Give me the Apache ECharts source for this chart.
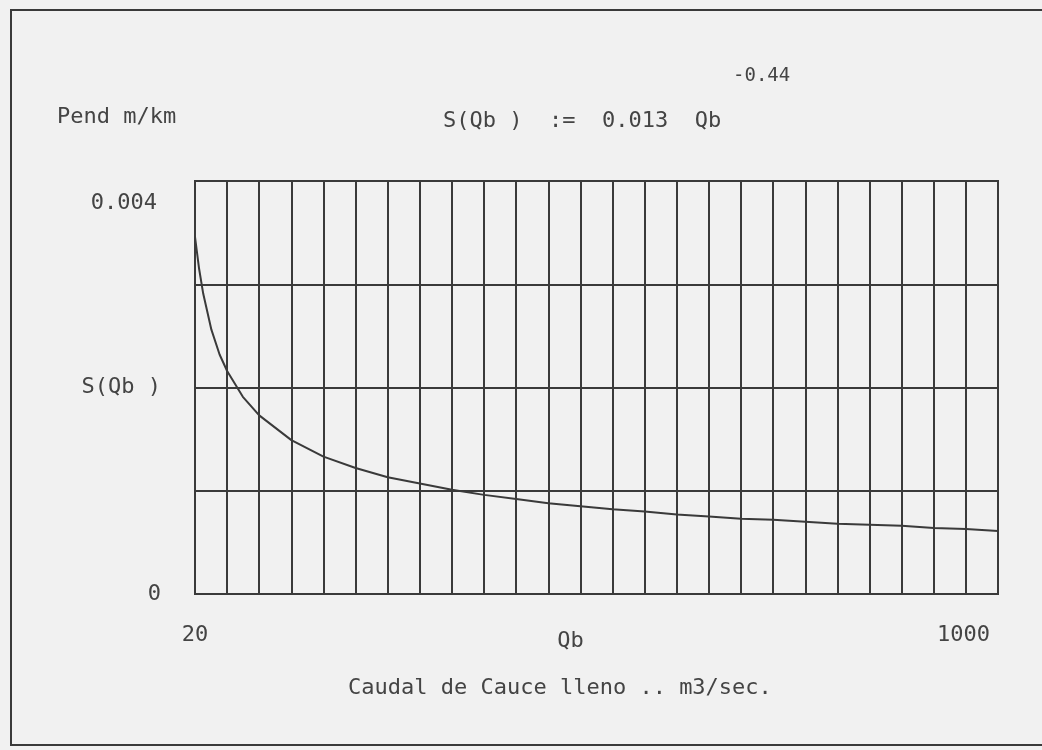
<!DOCTYPE html>
<html>
<head>
<meta charset="utf-8">
<script src="https://cdn.jsdelivr.net/npm/echarts@6/dist/echarts.min.js"></script>
<style>
  html, body { margin: 0; padding: 0; background: #f1f1f1; }
  #main { width: 1042px; height: 750px; position: relative; }
  #frame { position: absolute; left: 10px; top: 9px; width: 1040px; height: 737px;
           border: 2px solid #3a3a3a; box-sizing: border-box; pointer-events: none; }
</style>
</head>
<body>
<div id="frame"></div>
<div id="main"></div>
<script>
// Caudal de cauce lleno (m3/s) y pendiente
var qb = [20, 25, 30, 40, 50, 59.2, 78.4, 98.4, 137.6, 176.8, 216, 255.2, 294.4, 333.6, 372.8, 412,
  451.2, 490.4, 529.6, 568.8, 608, 647.2, 686.4, 725.6, 764.8, 804, 843.2, 882.4, 921.6, 960.8, 1000];
var slope = [0.00346, 0.00315, 0.00291, 0.00256, 0.00232, 0.00216, 0.00191, 0.00173, 0.00149, 0.00133,
  0.00122, 0.00113, 0.00107, 0.00101, 0.00096, 0.00092, 0.00088, 0.00085, 0.00082, 0.00080, 0.00077,
  0.00075, 0.00073, 0.00072, 0.00070, 0.00068, 0.00067, 0.00066, 0.00064, 0.00063, 0.00061];

var xTicks = { min: 20, max: 1000, step: 39.2 };
var yTicks = { min: 0, max: 0.004, step: 0.001 };

var font = '"DejaVu Sans Mono", monospace';
var ink = '#3a3a3a';
var textInk = '#444';

var myChart = echarts.init(document.getElementById('main'));
var points = qb.map(function (q, i) { return [q, slope[i]]; });

var option = {
  backgroundColor: 'transparent',
  animation: false,
  title: [
    { text: 'Pend m/km', left: 57, top: 106, padding: 0,
      textStyle: { fontFamily: font, fontSize: 22, fontWeight: 'normal', color: textInk } },
    { text: 'S(Qb )  :=  0.013  Qb', left: 443, top: 110, padding: 0,
      textStyle: { fontFamily: font, fontSize: 22, fontWeight: 'normal', color: textInk } },
    { text: '-0.44', left: 733, top: 67, padding: 0,
      textStyle: { fontFamily: font, fontSize: 19, fontWeight: 'normal', color: textInk } },
    { text: 'Caudal de Cauce lleno .. m3/sec.', left: 348, top: 677, padding: 0,
      textStyle: { fontFamily: font, fontSize: 22, fontWeight: 'normal', color: textInk } }
  ],
  grid: {
    left: 195, top: 181, width: 803, height: 413,
    show: true, borderColor: ink, borderWidth: 2, backgroundColor: 'transparent'
  },
  xAxis: {
    type: 'value',
    min: xTicks.min, max: xTicks.max, interval: xTicks.step,
    name: 'Qb',
    nameLocation: 'middle',
    nameGap: 36,
    nameMoveOverlap: false,
    nameTextStyle: { fontFamily: font, fontSize: 22, color: textInk, padding: [0, 52, 0, 0] },
    axisLine: { show: false },
    axisTick: { show: false },
    splitLine: { show: true, lineStyle: { color: ink, width: 2 } },
    axisLabel: {
      show: true,
      margin: 30,
      fontFamily: font, fontSize: 22, color: textInk,
      showMinLabel: true, showMaxLabel: true,
      alignMaxLabel: 'right',
      formatter: function (v) {
        if (Math.abs(v - xTicks.min) < 1e-6) return '20';
        if (Math.abs(v - xTicks.max) < 1e-6) return '{end|1000}';
        return '';
      },
      rich: { end: { fontFamily: font, fontSize: 22, color: textInk, padding: [0, 8, 0, 0] } }
    }
  },
  yAxis: {
    type: 'value',
    min: yTicks.min, max: yTicks.max, interval: yTicks.step,
    axisLine: { show: false },
    axisTick: { show: false },
    splitLine: { show: true, lineStyle: { color: ink, width: 2 } },
    axisLabel: {
      margin: 34,
      fontFamily: font, fontSize: 22, color: textInk,
      formatter: function (v) {
        if (Math.abs(v) < 1e-9) return '0';
        if (Math.abs(v - 0.004) < 1e-9) return '{top|0.004}';
        if (Math.abs(v - 0.002) < 1e-9) return 'S(Qb )';
        return '';
      },
      rich: {
        top: { fontFamily: font, fontSize: 22, color: textInk, padding: [44, 4, 0, 0] }
      }
    }
  },
  series: [{
    type: 'line',
    data: points,
    showSymbol: false,
    smooth: false,
    lineStyle: { color: ink, width: 2 }
  }]
};
myChart.setOption(option);
</script>
</body>
</html>
